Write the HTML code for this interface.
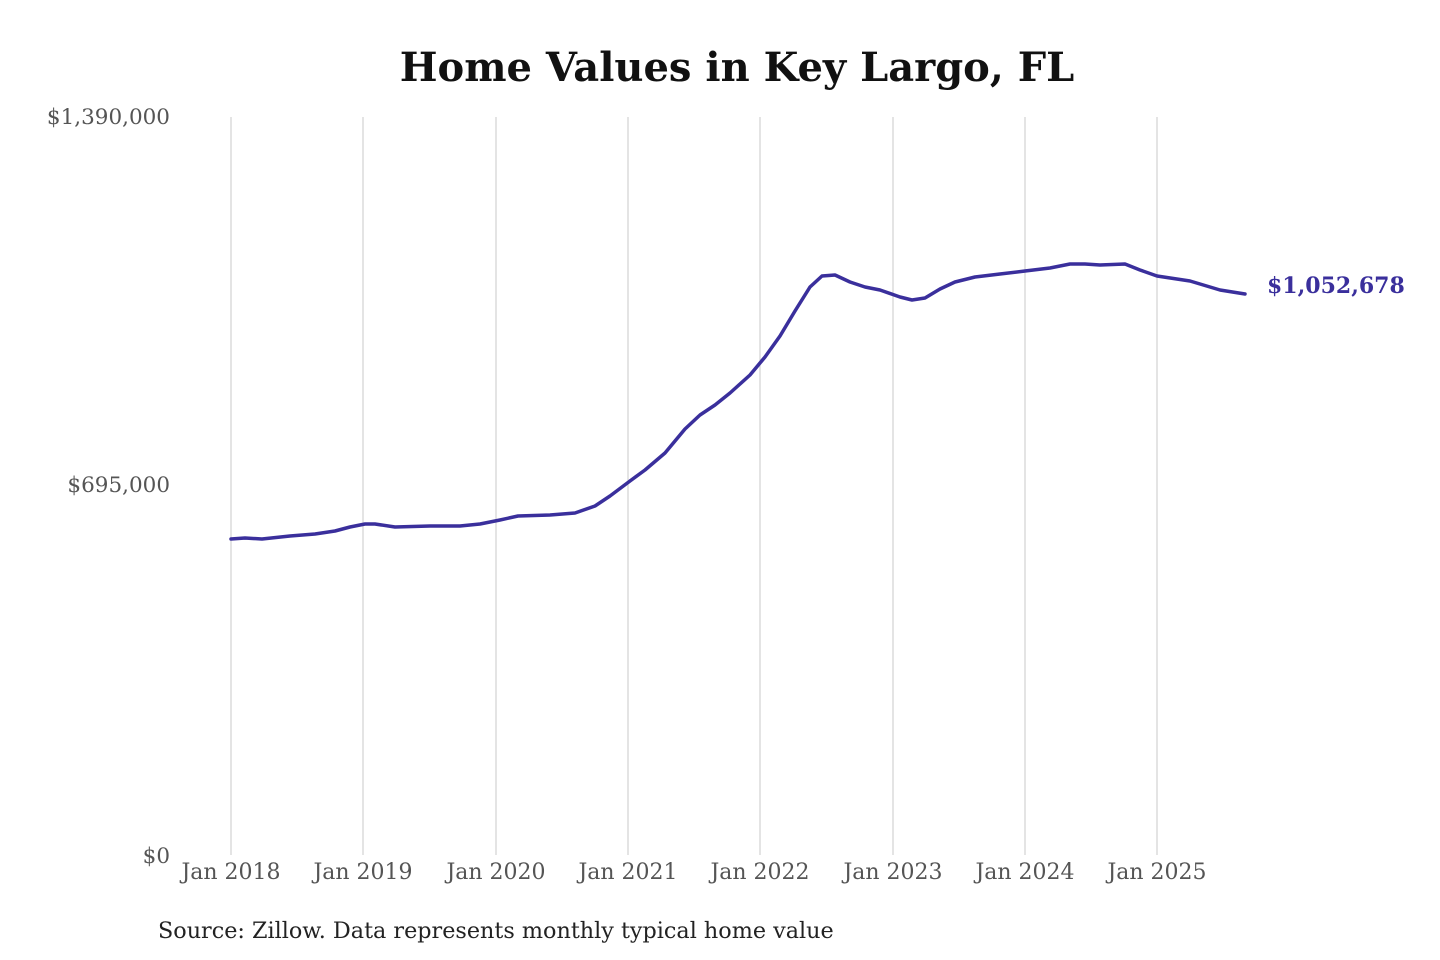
<!DOCTYPE html>
<html><head><meta charset="utf-8"><style>
html,body{margin:0;padding:0;background:#fff;}
svg{display:block;}
</style></head><body>
<svg width="1440" height="960" viewBox="0 0 1440 960" xmlns="http://www.w3.org/2000/svg">
<rect width="1440" height="960" fill="#fff"/>
<text x="737" y="81" text-anchor="middle" font-family="DejaVu Serif, serif" font-weight="bold" font-size="40" fill="#111">Home Values in Key Largo, FL</text>
<g stroke="#c8c8c8" stroke-width="1">
<line x1="231" y1="117" x2="231" y2="855"/>
<line x1="363" y1="117" x2="363" y2="855"/>
<line x1="496" y1="117" x2="496" y2="855"/>
<line x1="628" y1="117" x2="628" y2="855"/>
<line x1="760" y1="117" x2="760" y2="855"/>
<line x1="893" y1="117" x2="893" y2="855"/>
<line x1="1025" y1="117" x2="1025" y2="855"/>
<line x1="1157" y1="117" x2="1157" y2="855"/>
</g>
<g font-family="DejaVu Serif, serif" font-size="21.5" fill="#555" text-anchor="end">
<text x="170" y="124">$1,390,000</text>
<text x="170" y="492">$695,000</text>
<text x="170" y="863">$0</text>
</g>
<g font-family="DejaVu Serif, serif" font-size="22" fill="#555" text-anchor="middle">
<text x="231" y="879">Jan 2018</text>
<text x="363" y="879">Jan 2019</text>
<text x="496" y="879">Jan 2020</text>
<text x="628" y="879">Jan 2021</text>
<text x="760" y="879">Jan 2022</text>
<text x="893" y="879">Jan 2023</text>
<text x="1025" y="879">Jan 2024</text>
<text x="1157" y="879">Jan 2025</text>
</g>
<polyline fill="none" stroke="#3a2f9c" stroke-width="3.5" stroke-linejoin="round" stroke-linecap="round"
points="231,539 245,538 262,539 290,536 315,534 335,531 350,527 365,524 375,524 395,527 430,526 460,526 480,524 500,520 518,516 550,515 575,513 595,506 610,496 630,481 645,470 665,453 685,429 700,415 715,405 730,393 750,375 765,357 780,336 795,311 810,287 822,276 835,275 850,282 865,287 880,290 900,297 912,300 925,298 940,289 955,282 975,277 1000,274 1025,271 1050,268 1070,264 1085,264 1100,265 1125,264 1140,270 1157,276 1190,281 1220,290 1245,294"/>
<text x="1267" y="293" font-family="DejaVu Serif, serif" font-weight="bold" font-size="22" fill="#3a2f9c">$1,052,678</text>
<text x="158" y="938" font-family="DejaVu Serif, serif" font-size="22.3" fill="#222">Source: Zillow. Data represents monthly typical home value</text>
</svg>
</body></html>
